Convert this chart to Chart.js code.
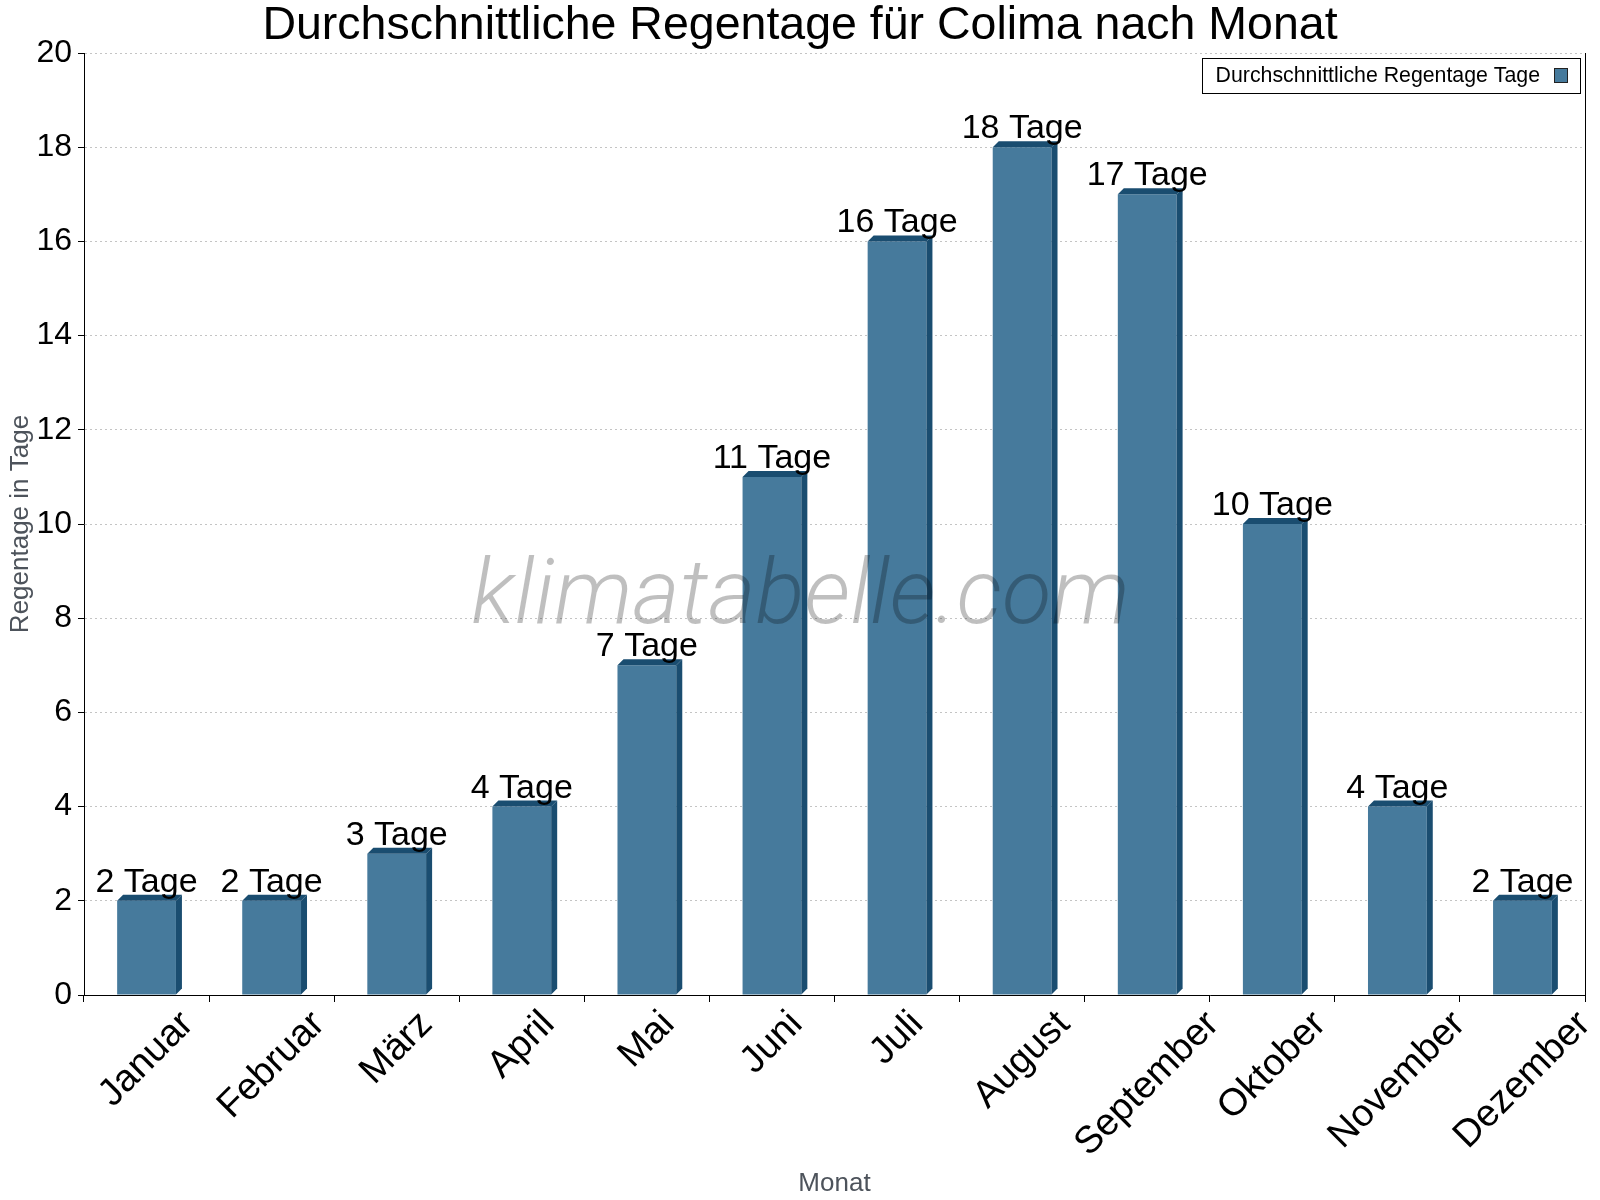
<!DOCTYPE html>
<html>
<head>
<meta charset="utf-8">
<script src="https://cdn.jsdelivr.net/npm/chart.js@4.4.1/dist/chart.umd.min.js"></script>
<style>
  html, body { margin: 0; padding: 0; background: #fff; }
  #wrap { width: 1600px; height: 1200px; position: relative; }
</style>
</head>
<body>
<div id="wrap"><canvas id="myChart"></canvas></div>
<script>
// data
var months = ['Januar','Februar','März','April','Mai','Juni','Juli','August','September','Oktober','November','Dezember']
var rainDays = [2, 2, 3, 4, 7, 11, 16, 18, 17, 10, 4, 2]
var yTicks = [0, 2, 4, 6, 8, 10, 12, 14, 16, 18, 20]
var seriesLabel = 'Durchschnittliche Regentage Tage'
var unit = 'Tage'

var FONT = '"Liberation Sans", Arial, Helvetica, sans-serif'
var frontColor = '#467a9c', sideColor = '#1a4d70', depth = 6

// fake 3d faces on top/right of every bar + value labels
var bars3d = {
  id: 'bars3d',
  afterDatasetsDraw(chart) {
    var ctx = chart.ctx
    var meta = chart.getDatasetMeta(0)
    ctx.save()
    meta.data.forEach(function(bar, i) {
      var l = bar.x - bar.width / 2, r = bar.x + bar.width / 2
      var top = bar.y, base = bar.base
      ctx.fillStyle = sideColor
      ctx.beginPath()
      ctx.moveTo(l, top); ctx.lineTo(l + depth, top - depth)
      ctx.lineTo(r + depth, top - depth); ctx.lineTo(r, top)
      ctx.closePath(); ctx.fill()
      ctx.beginPath()
      ctx.moveTo(r, top); ctx.lineTo(r + depth, top - depth)
      ctx.lineTo(r + depth, base - depth); ctx.lineTo(r, base)
      ctx.closePath(); ctx.fill()

      ctx.fillStyle = '#000'
      ctx.font = '34px ' + FONT
      ctx.textAlign = 'center'
      ctx.textBaseline = 'alphabetic'
      ctx.fillText(rainDays[i] + ' ' + unit, bar.x, top - 9)
    })
    ctx.restore()
  },
  afterDraw(chart) {
    var ctx = chart.ctx, area = chart.chartArea
    ctx.save()

    // rotated month labels, centred under the category
    ctx.font = '38px ' + FONT
    ctx.fillStyle = '#000'
    ctx.textAlign = 'center'
    ctx.textBaseline = 'middle'
    months.forEach(function(m, i) {
      var cx = chart.scales.x.getPixelForValue(i)
      var w = ctx.measureText(m).width
      var box = (w + 32) / Math.SQRT2
      var cy = area.bottom + 12 + box / 2
      ctx.save()
      ctx.translate(cx, cy)
      ctx.rotate(-Math.PI / 4)
      ctx.fillText(m, 0, 0)
      ctx.restore()
    })

    // watermark
    ctx.font = 'italic 300 91px Roboto, ' + FONT
    ctx.fillStyle = 'rgba(0,0,0,0.25)'
    ctx.textAlign = 'center'
    ctx.textBaseline = 'alphabetic'
    ctx.fillText('klimatabelle.com', (area.left + area.right) / 2 - 34, 623)

    // legend box
    ctx.font = '21.3px ' + FONT
    var tw = ctx.measureText(seriesLabel).width
    var bw = 14 + tw + 14 + 14 + 12, bh = 35
    var bx = area.right - 5 - bw, by = area.top + 5
    ctx.fillStyle = '#fff'
    ctx.fillRect(bx, by, bw, bh)
    ctx.strokeStyle = '#000'
    ctx.lineWidth = 1
    ctx.strokeRect(Math.round(bx) + 0.5, Math.round(by) + 0.5, Math.round(bw), bh)
    ctx.fillStyle = '#000'
    ctx.textAlign = 'left'
    ctx.textBaseline = 'middle'
    ctx.fillText(seriesLabel, bx + 14, by + bh / 2 + 1)
    ctx.fillStyle = frontColor
    ctx.fillRect(bx + 14 + tw + 14, by + 10, 14, 15)
    ctx.strokeStyle = '#222'
    ctx.strokeRect(Math.round(bx + 14 + tw + 14) + 0.5, by + 10.5, 13, 14)
    ctx.restore()
  }
}

var clusterChart = new Chart(document.getElementById('myChart'), {
  type: 'bar',
  data: {
    labels: months,
    datasets: [{
      label: seriesLabel,
      data: rainDays,
      backgroundColor: frontColor,
      borderWidth: 0,
      categoryPercentage: 1,
      barPercentage: 0.47
    }]
  },
  options: {
    responsive: true,
    maintainAspectRatio: false,
    animation: false,
    layout: { padding: 0 },
    plugins: {
      legend: { display: false },
      tooltip: { enabled: false },
      title: {
        display: true,
        text: 'Durchschnittliche Regentage für Colima nach Monat',
        color: '#000',
        font: { family: FONT, size: 46.5, weight: 'normal', lineHeight: 1 },
        padding: { top: 3, bottom: 3.5 }
      }
    },
    scales: {
      x: {
        ticks: { display: false },
        grid: { display: true, drawOnChartArea: false, drawTicks: true, tickLength: 7, tickColor: '#000', offset: true },
        border: { display: true, color: '#000', width: 1 },
        title: {
          display: true, text: 'Monat', color: '#4d535b',
          font: { family: FONT, size: 26 }, padding: { top: 0, bottom: 1 }
        },
        afterFit(scale) { scale.height = 205 }
      },
      y: {
        min: 0, max: 20,
        afterBuildTicks(scale) { scale.ticks = yTicks.map(function(v) { return { value: v } }) },
        ticks: { color: '#000', font: { family: FONT, size: 32 }, padding: 6 },
        grid: { color: '#c4c4c4', tickLength: 6, tickColor: '#000', tickBorderDash: [] },
        // border.dash is what dashes the grid lines in v4, the axis line stays solid
        border: { display: true, color: '#000', width: 1, dash: [2, 3] },
        title: {
          display: true, text: 'Regentage in Tage', color: '#4d535b',
          font: { family: FONT, size: 26 }, padding: { top: 5, bottom: 0 }
        },
        afterFit(scale) { scale.width = 84 }
      },
      // empty right axis: only the frame line on the right
      yRight: {
        position: 'right',
        min: 0, max: 20,
        ticks: { display: false },
        grid: { drawOnChartArea: false, drawTicks: false },
        border: { display: true, color: '#000', width: 1 },
        afterFit(scale) { scale.width = 15 }
      }
    }
  },
  plugins: [bars3d]
})
</script>
</body>
</html>
